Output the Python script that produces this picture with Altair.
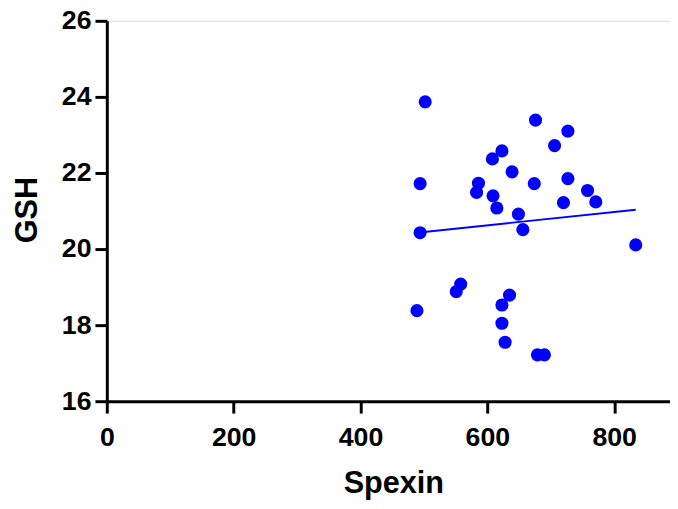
import altair as alt
import pandas as pd

spexin = [502, 676, 727, 706, 623, 608, 639, 494, 586, 674,
          727, 583, 758, 609, 771, 720, 615, 649, 656, 494,
          834, 558, 551, 489, 635, 623, 623, 628, 679, 690]
gsh = [23.87, 23.39, 23.10, 22.72, 22.58, 22.37, 22.03, 21.72, 21.73, 21.72,
       21.85, 21.49, 21.54, 21.40, 21.24, 21.22, 21.08, 20.92, 20.51, 20.43,
       20.11, 19.08, 18.88, 18.38, 18.79, 18.53, 18.05, 17.55, 17.22, 17.22]
x_ticks = [0, 200, 400, 600, 800]
y_ticks = [16, 18, 20, 22, 24, 26]

df = pd.DataFrame({"Spexin": spexin, "GSH": gsh})

FONT = "Liberation Sans"

x_enc = alt.X(
    "Spexin:Q",
    scale=alt.Scale(domain=[0, 888], nice=False, zero=False),
    axis=alt.Axis(
        values=x_ticks, title="Spexin", grid=False, labelFlush=False,
        domainColor="black", domainWidth=3,
        tickColor="black", tickWidth=3, tickSize=12,
        labelFont=FONT, labelFontSize=27, labelFontWeight="bold",
        labelColor="black", labelPadding=12,
        titleFont=FONT, titleFontSize=31, titleFontWeight="bold",
        titleColor="black", titleX=290, titleY=92,
        titleBaseline="alphabetic", titleAlign="center",
    ),
)
y_enc = alt.Y(
    "GSH:Q",
    scale=alt.Scale(domain=[16, 26], nice=False, zero=False),
    axis=alt.Axis(
        values=y_ticks, title="GSH", grid=False, labelFlush=False,
        domainColor="black", domainWidth=3,
        tickColor="black", tickWidth=3, tickSize=12,
        labelFont=FONT, labelFontSize=27, labelFontWeight="bold",
        labelColor="black", labelPadding=4,
        titleFont=FONT, titleFontSize=31, titleFontWeight="bold",
        titleColor="black", titleX=-71, titleY=191,
        titleBaseline="alphabetic", titleAlign="center", titleAngle=270,
    ),
)

points = alt.Chart(df).mark_circle(size=177, color="#0000FF", opacity=1).encode(
    x=x_enc, y=y_enc
)

line = alt.Chart(df).transform_regression("Spexin", "GSH").mark_line(
    color="#0000FF", strokeWidth=2
).encode(x="Spexin:Q", y="GSH:Q")

chart = alt.layer(points, line).properties(
    width=570,
    height=385,
    padding={"left": 100, "top": 10, "right": 0, "bottom": 98},
    autosize=alt.AutoSizeParams(type="none"),
).configure_view(stroke=None).configure(background="white")

chart.save("out.html", embed_options={"renderer": "svg", "actions": False})
